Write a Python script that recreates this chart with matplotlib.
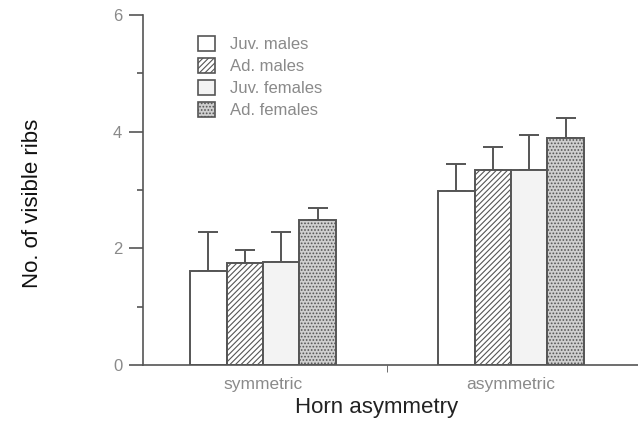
import matplotlib.pyplot as plt
import matplotlib.patches as mpatches
import numpy as np

plt.rcParams['font.family'] = ['Liberation Sans', 'DejaVu Sans']
plt.rcParams['hatch.linewidth'] = 0.8

groups = ['symmetric', 'asymmetric']
series = ['Juv. males', 'Ad. males', 'Juv. females', 'Ad. females']
means = {
    'Juv. males': [1.61, 2.99],
    'Ad. males': [1.75, 3.35],
    'Juv. females': [1.77, 3.35],
    'Ad. females': [2.48, 3.89],
}
upper = {
    'Juv. males': [2.28, 3.45],
    'Ad. males': [1.97, 3.74],
    'Juv. females': [2.28, 3.95],
    'Ad. females': [2.70, 4.23],
}

edge = '#555555'
txt = '#8a8a8a'
styles = {
    'Juv. males': dict(facecolor='white', hatch=None),
    'Ad. males': dict(facecolor='white', hatch='//////'),
    'Juv. females': dict(facecolor='#f3f3f3', hatch=None),
    'Ad. females': dict(facecolor='#cfcfcf', hatch='.....'),
}

fig = plt.figure(figsize=(6.38, 4.43), dpi=100)
ax = fig.add_axes([143/638, 1-365/443, 1-143/638, (365-15)/443])

w = 0.147
x = np.arange(len(groups))
handles = []
for i, s in enumerate(series):
    pos = x + (i - 1.5) * w
    m = np.array(means[s])
    err = np.array(upper[s]) - m
    st = styles[s]
    ax.bar(pos, m, w, facecolor=st['facecolor'], edgecolor=edge, hatch=st['hatch'],
           linewidth=1.4, zorder=2)
    ax.errorbar(pos, m, yerr=[np.zeros_like(err), err], fmt='none', ecolor=edge,
                elinewidth=1.4, capsize=7, capthick=1.4, zorder=1)
    handles.append(mpatches.Patch(facecolor=st['facecolor'], edgecolor=edge,
                                  hatch=st['hatch'], linewidth=1.2, label=s))

ax.set_xlim(-0.484, 1.512)
ax.set_ylim(0, 6)
ax.set_yticks([0, 2, 4, 6])
ax.set_yticks([1, 3, 5], minor=True)
ax.set_xticks(x)
ax.set_xticklabels(groups)
ax.set_xticks([0.5], minor=True)
ax.tick_params(axis='x', which='major', length=0, pad=9, labelsize=12.5, labelcolor=txt)
ax.tick_params(axis='x', which='minor', length=5, direction='out', color=edge)
ax.tick_params(axis='y', which='major', length=10, width=1.2, color=edge,
               labelsize=12, labelcolor=txt, pad=5)
ax.tick_params(axis='y', which='minor', length=4, width=1.2, color=edge)

for sp in ['top', 'right']:
    ax.spines[sp].set_visible(False)
for sp in ['left', 'bottom']:
    ax.spines[sp].set_color(edge)
    ax.spines[sp].set_linewidth(1.2)

fig.text(33/638, 1-203/443, 'No. of visible ribs', rotation=90, ha='center',
         va='center', fontsize=16, color='#111111')
fig.text(377/638, 1-407/443, 'Horn asymmetry', ha='center', va='center',
         fontsize=16, color='#222222')

ax.legend(handles=handles, loc='upper left', bbox_to_anchor=(183/638, 1-21/443),
          bbox_transform=fig.transFigure, frameon=False, handlelength=1.0,
          handleheight=1.0, handletextpad=0.9, labelspacing=0.35, fontsize=12,
          labelcolor=txt)

fig.savefig('out.png', dpi=100)
